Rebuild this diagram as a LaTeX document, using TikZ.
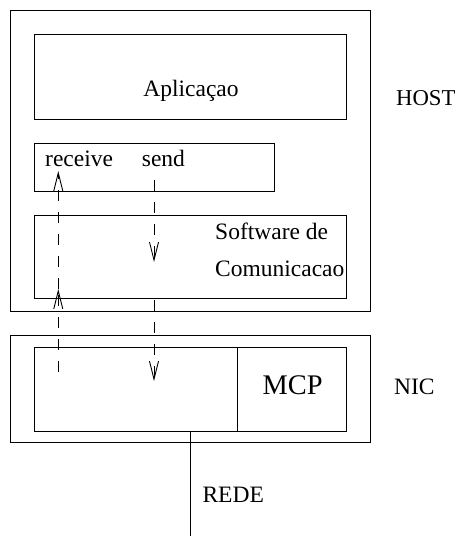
\documentclass[tikz,border=0pt]{standalone}
\usepackage{fontspec}
\setmainfont{Liberation Serif}
\usetikzlibrary{arrows.meta}
\tikzset{
  box/.style={draw, line width=0.9pt, inner sep=0pt},
  lbl/.style={inner sep=0pt, font=\fontsize{23.5}{28}\selectfont},
  big/.style={inner sep=0pt, font=\fontsize{28.4}{34}\selectfont},
  flow/.style={line width=0.9pt, dash pattern=on 11pt off 11pt,
    -{Straight Barb[length=18pt,width=9pt]}},
}
\begin{document}
\begin{tikzpicture}[x=1pt,y=-1pt]
\useasboundingbox (0,0) rectangle (456,536);
% host
\node[box, minimum width=360pt, minimum height=301pt] (host) at (190,160.5) {};
\node[box, minimum width=312pt, minimum height=85pt] (app) at (190,76.5) {};
\node[box, minimum width=240pt, minimum height=48pt] (api) at (154,167) {};
\node[box, minimum width=312pt, minimum height=83pt] (soft) at (190,256.5) {};
% nic
\node[box, minimum width=360pt, minimum height=107pt] (nic) at (190,389) {};
\node[box, minimum width=312pt, minimum height=83.5pt] (nicin) at (190,389.25) {};
\node[inner sep=0pt, minimum width=108pt, minimum height=83.5pt] (mcp) at (292,389.25) {};
\draw[line width=0.9pt] (mcp.north west) -- (mcp.south west);
% rede
\coordinate (net) at (190,536);
\draw[line width=0.9pt] (nicin.south) -- (net);
% texts
\node[lbl, anchor=base] (tapp) at (191,96) {Aplicaçao};
\node[lbl, anchor=base west, font=\fontsize{22.7}{27}\selectfont] (thost) at (396,105.7) {HOST};
\node[lbl, anchor=base west] (trecv) at (45,166) {receive};
\node[lbl, anchor=base west] (tsend) at (141.7,166) {send};
\node[lbl, anchor=base west] (tsoft1) at (215,239) {Software de};
\node[lbl, anchor=base west] (tsoft2) at (215,276) {Comunicacao};
\node[big, anchor=base] (tmcp) at (292.7,394) {MCP};
\node[lbl, anchor=base west] (tnic) at (394,394) {NIC};
\node[lbl, anchor=base west] (trede) at (202.3,502.7) {REDE};
% flows
\coordinate (r0) at (58.3,372);
\coordinate (r1) at (58.3,289);
\coordinate (r2) at (58.3,171);
\coordinate (s0) at (154,180);
\coordinate (s1) at (154,262);
\coordinate (s2) at (154,300);
\coordinate (s3) at (154,381);
\draw[flow] (r0) -- (r1);
\draw[flow] (r1) -- (r2);
\draw[flow] (s0) -- (s1);
\draw[flow] (s2) -- (s3);
\end{tikzpicture}
\end{document}
